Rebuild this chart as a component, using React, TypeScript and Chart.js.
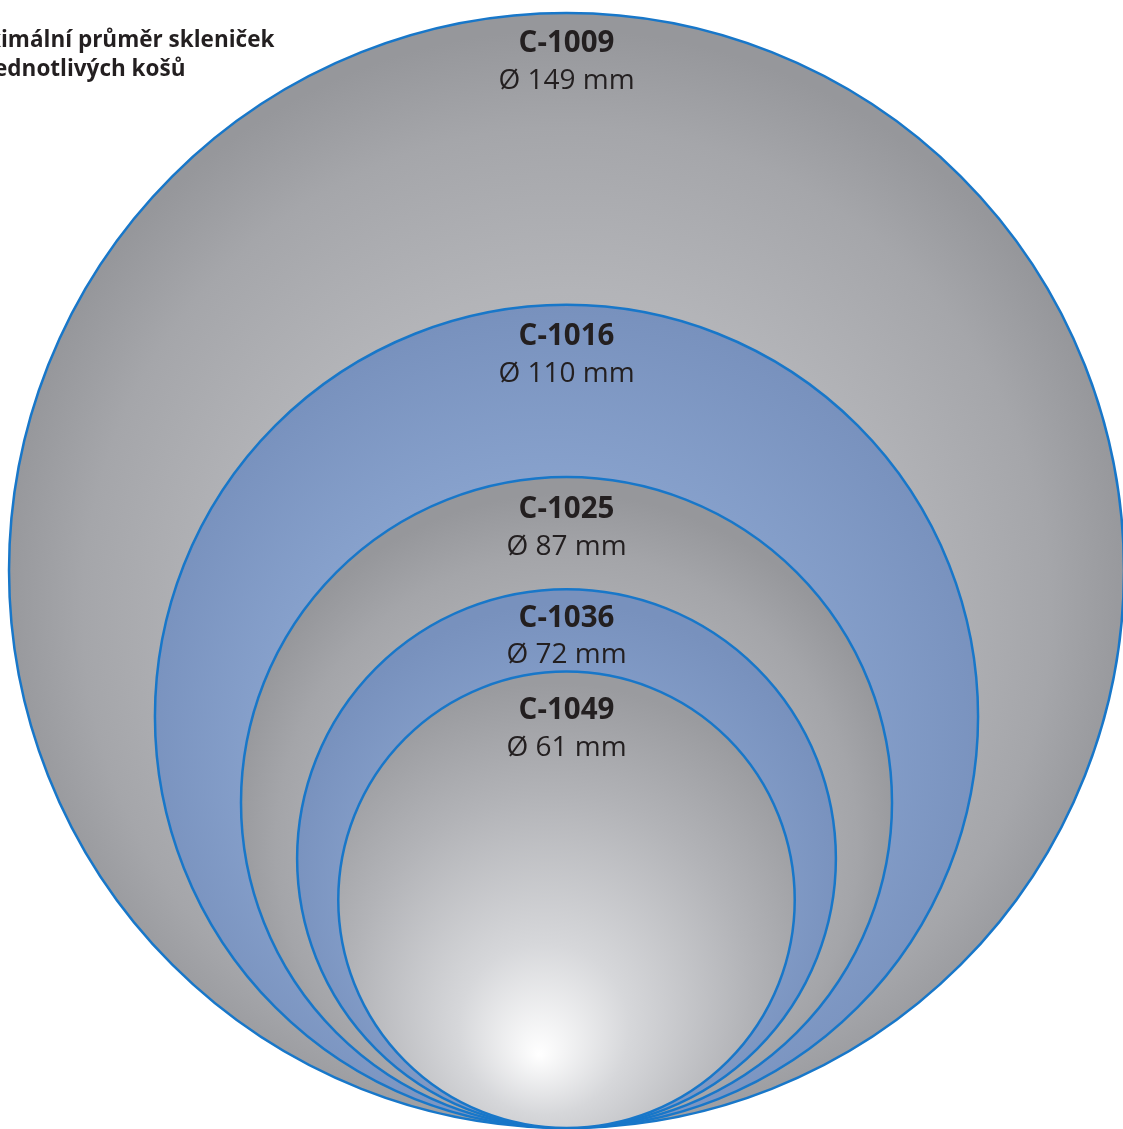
import React, { useEffect, useRef } from "react";
import { Chart, registerables } from "chart.js";

Chart.register(...registerables);

// ---- data ----
const CODES = ["C-1009", "C-1016", "C-1025", "C-1036", "C-1049"];
const DIAMETERS_MM = [149, 110, 87, 72, 61];
const TITLE_LINES = ["Maximální průměr skleniček", "do jednotlivých košů"];
const TITLE_CUT = "Max";

// ---- styling / layout ----
const W = 1123;
const H = 1129;
const PX_PER_MM = 7.483;
const CENTER_X_PX = 566.5;
const BOTTOM_PX = 1128;
const BORDER_COLOR = "#1877c9";
const LABEL_OFFSETS = [31, 32, 33, 29, 39];
const FILL_STYLES = [
  { fx: 0.0, fy: 0.2, gx: 0.0, gy: 0.05, gr: 1.02, stops: [[0, "#c3c4c8"], [0.6, "#b3b4b8"], [0.85, "#a5a6aa"], [1, "#96979b"]] },
  { fx: -0.15, fy: 0.2, gx: 0.0, gy: 0.05, gr: 1.05, stops: [[0, "#8eaad6"], [0.65, "#87a1cc"], [1, "#7891bd"]] },
  { fx: 0.0, fy: 0.3, gx: 0.0, gy: 0.1, gr: 1.05, stops: [[0, "#c6c7cb"], [0.6, "#b2b3b7"], [0.85, "#a4a5a9"], [1, "#96979b"]] },
  { fx: -0.1, fy: 0.3, gx: 0.0, gy: 0.1, gr: 1.05, stops: [[0, "#8ea9d4"], [0.65, "#86a0cb"], [1, "#7891bd"]] },
  { fx: -0.12, fy: 0.68, gx: -0.05, gy: 0.3, gr: 1.25, stops: [[0, "#ffffff"], [0.3, "#d6d7da"], [0.7, "#b2b3b7"], [1, "#9a9b9f"]] },
];

const TEXT_COLOR = "#231f20";
const FONT = "'Open Sans', 'Noto Sans', sans-serif";

function geom(chart: any, i: number) {
  const xs = chart.scales && chart.scales.x;
  const ys = chart.scales && chart.scales.y;
  if (!xs || !ys) return null;
  const d = DIAMETERS_MM[i];
  const cx = xs.getPixelForValue(0);
  const cy = ys.getPixelForValue(d / 2);
  const r = Math.abs(xs.getPixelForValue(d / 2) - xs.getPixelForValue(0));
  const top = ys.getPixelForValue(d);
  if (![cx, cy, r, top].every((v) => Number.isFinite(v)) || r <= 0) return null;
  return { cx, cy, r, top };
}

const labelPlugin = {
  id: "circleLabels",
  afterDatasetsDraw(chart: any) {
    const ctx = chart.ctx;
    ctx.save();
    ctx.fillStyle = TEXT_COLOR;
    ctx.textAlign = "center";
    ctx.textBaseline = "middle";
    DIAMETERS_MM.forEach((d, i) => {
      const g = geom(chart, i);
      if (!g) return;
      const y1 = g.top + LABEL_OFFSETS[i];
      ctx.font = `bold 29.5px ${FONT}`;
      ctx.fillText(CODES[i], g.cx, y1);
      ctx.font = `28px ${FONT}`;
      ctx.fillText(`Ø ${d} mm`, g.cx, y1 + 37);
    });
    // title, partly cut at the left edge
    ctx.textAlign = "left";
    ctx.textBaseline = "alphabetic";
    ctx.font = `bold 22.5px ${FONT}`;
    const cut = ctx.measureText(TITLE_CUT).width;
    ctx.fillText(TITLE_LINES[0], -cut + 1, 47);
    ctx.fillText(TITLE_LINES[1], -cut + 1, 76);
    ctx.restore();
  },
};

export default function App() {
  const ref = useRef<HTMLCanvasElement | null>(null);
  useEffect(() => {
    if (!ref.current) return;
    const xMin = -CENTER_X_PX / PX_PER_MM;
    const xMax = (W - CENTER_X_PX) / PX_PER_MM;
    const yMin = -(H - BOTTOM_PX) / PX_PER_MM;
    const yMax = BOTTOM_PX / PX_PER_MM;
    const chart = new Chart(ref.current, {
      type: "scatter",
      data: {
        labels: CODES,
        datasets: [
          {
            data: DIAMETERS_MM.map((d) => ({ x: 0, y: d / 2 })) as any,
            clip: false as any,
            showLine: false,
            pointBorderColor: BORDER_COLOR,
            pointBorderWidth: 2.5,
            pointHoverRadius: 0,
            pointHitRadius: 0,
            pointRadius: (c: any) => {
              const g = geom(c.chart, c.dataIndex);
              return g ? g.r : 0;
            },
            pointBackgroundColor: (c: any) => {
              const g = geom(c.chart, c.dataIndex);
              const st = FILL_STYLES[c.dataIndex];
              if (!g || !st) return "#aaaaaa";
              const grad = c.chart.ctx.createRadialGradient(
                g.cx + st.fx * g.r,
                g.cy + st.fy * g.r,
                0,
                g.cx + st.gx * g.r,
                g.cy + st.gy * g.r,
                st.gr * g.r
              );
              st.stops.forEach(([o, col]) => grad.addColorStop(o as number, col as string));
              return grad;
            },
          } as any,
        ],
      },
      options: {
        animation: false,
        responsive: false,
        layout: { padding: 0, autoPadding: false } as any,
        events: [],
        plugins: { legend: { display: false }, tooltip: { enabled: false }, title: { display: false } },
        scales: {
          x: { type: "linear", min: xMin, max: xMax, display: false },
          y: { type: "linear", min: yMin, max: yMax, display: false },
        },
      },
      plugins: [labelPlugin],
    });
    chart.update();
    return () => chart.destroy();
  }, []);
  return (
    <div style={{ position: "absolute", left: 0, top: 0, width: W, height: H, background: "#ffffff" }}>
      <canvas ref={ref} width={W} height={H} style={{ display: "block", width: W, height: H }} />
    </div>
  );
}
